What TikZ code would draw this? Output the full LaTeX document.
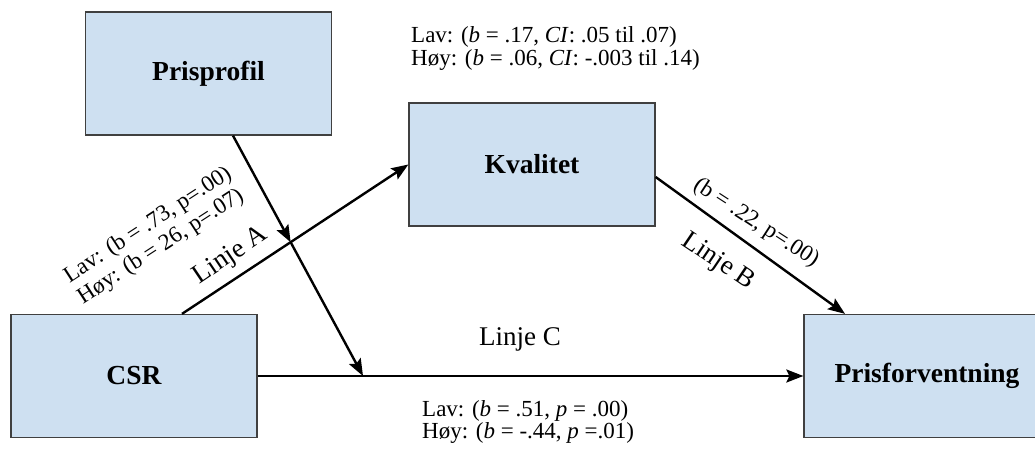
\documentclass[tikz,border=0pt]{standalone}
\usepackage{fontspec}
\setmainfont{Liberation Serif}
\usetikzlibrary{arrows.meta}
\definecolor{boxfill}{RGB}{206,224,241}
\definecolor{boxline}{RGB}{64,64,64}
\begin{document}
\begin{tikzpicture}[x=1pt,y=-1pt,
 box/.style={draw=boxline, line width=1.3pt, fill=boxfill, minimum width=246pt, minimum height=123pt, inner sep=0pt, font=\fontsize{27.5}{30}\selectfont\bfseries},
 conn/.style={line width=2.4pt, -{Stealth[length=17pt,width=13pt,inset=3pt]}},
 stat/.style={font=\fontsize{23}{25}\selectfont, inner sep=0pt, align=left},
 lbl/.style={font=\fontsize{27}{27}\selectfont, inner sep=0pt}]
\clip (0,0) rectangle (1035,457);
\node[box] (pp) at (208.5,73.5) {Prisprofil};
\node[box] (kv) at (532,164.5) {Kvalitet};
\node[box] (csr) at (134,376) {CSR};
\node[box] (pf) at (927,376) {Prisforventning};
\coordinate (a0) at ([xshift=48pt]csr.north);
\coordinate (kw) at (kv.west);
\coordinate (p0) at ([xshift=24.5pt]pp.south);
\coordinate (mC) at (363,376);
\coordinate (mA) at (intersection of a0--kw and p0--mC);
\draw[conn] (a0) -- (kw);
\draw[conn] (p0) -- (mA);
\draw[conn] (mA) -- (mC);
\draw[conn] (csr.east) -- (pf.west);
\draw[conn] ([yshift=-12.5pt]kv.east) -- ([xshift=-82pt]pf.north);
\node[stat, anchor=base west] (t1) at (411,43) {Lav: (\textit{b} = .17, \textit{CI}: .05 til .07)};
\node[stat, anchor=base west] (t2) at (411,66) {Høy: (\textit{b} = .06, \textit{CI}: -.003 til .14)};
\node[stat, anchor=base west] (b1) at (422,416) {Lav: (\textit{b} = .51, \textit{p} = .00)};
\node[stat, anchor=base west] (b2) at (422,438) {Høy: (\textit{b} = -.44, \textit{p} =.01)};
\node[lbl, anchor=base] (lc) at (520,345) {Linje C};
\node[stat, rotate=33] (la) at (155,236) {Lav: (b = .73, p=.00)\\Høy: (b = 26, p=.07)};
\node[lbl, rotate=34] (lA) at (231,256) {Linje A};
\node[stat, rotate=-33] (lb) at (756,223) {(b = .22, p=.00)};
\node[lbl, rotate=-34] (lB) at (718,262) {Linje B};
\end{tikzpicture}
\end{document}
